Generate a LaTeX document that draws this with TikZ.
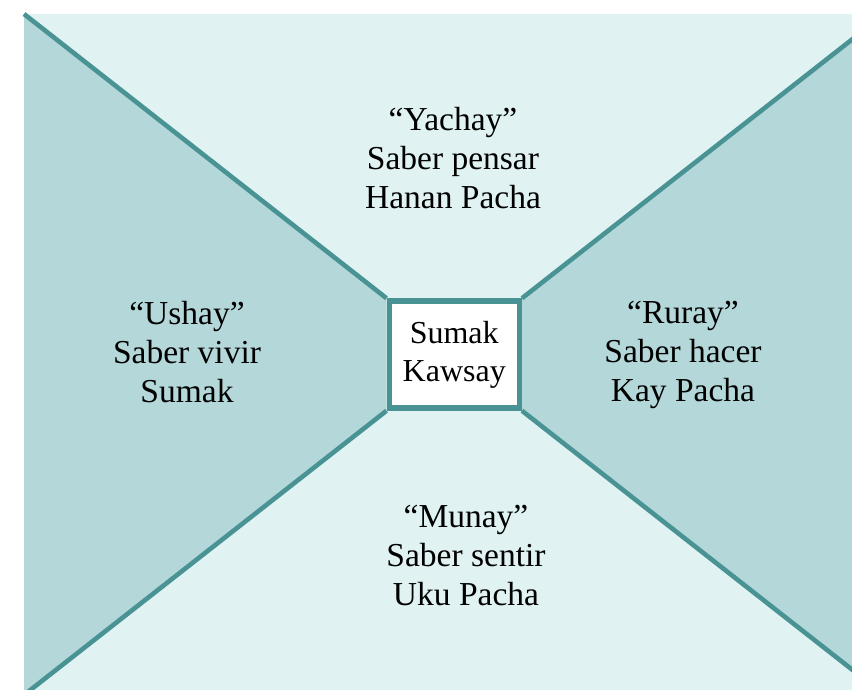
\documentclass[tikz,border=0pt]{standalone}
\usepackage{fontspec}
\setmainfont{Liberation Serif}
\usetikzlibrary{backgrounds}
\definecolor{tealline}{HTML}{4A9395}
\definecolor{palefill}{HTML}{E0F2F2}
\definecolor{sidefill}{HTML}{B4D8D9}

\begin{document}
\begin{tikzpicture}[x=1pt,y=-1pt,
  saber/.style={align=center,inner sep=0pt,font=\fontsize{33.5}{39}\selectfont},
  core/.style={draw=tealline,line width=5.5pt,fill=white,minimum width=130pt,minimum height=107pt,
    inner sep=0pt,align=center,font=\fontsize{32}{38}\selectfont},
  spoke/.style={draw=tealline,line width=4.6pt}]
  \useasboundingbox (0,0) rectangle (852,689);
  \node[core]  (core)   at (454.25,354.5) {Sumak\\Kawsay};
  \node[saber] (yachay) at (453,158) {“Yachay”\\Saber pensar\\Hanan Pacha};
  \node[saber] (ushay)  at (187,352) {“Ushay”\\Saber vivir\\Sumak};
  \node[saber] (ruray)  at (683,355) {“Ruray”\\Saber hacer\\Kay Pacha};
  \node[saber] (munay)  at (466,555) {“Munay”\\Saber sentir\\Uku Pacha};

  \begin{scope}[on background layer]
    \clip (0,0) rectangle (852,689);
    \coordinate (out north west) at (24,14);
    \coordinate (out north east) at (884.5,14);
    \coordinate (out south west) at (24,695);
    \coordinate (out south east) at (884.5,695);
    \fill[palefill] (out north west) rectangle (out south east);
    \fill[sidefill] (out north west) -- (core.north west) -- (core.south west) -- (out south west) -- cycle;
    \fill[sidefill] (out north east) -- (core.north east) -- (core.south east) -- (out south east) -- cycle;
    \foreach \corner in {north west,north east,south west,south east}
      \draw[spoke] (out \corner) -- (core.\corner);
  \end{scope}
\end{tikzpicture}
\end{document}
